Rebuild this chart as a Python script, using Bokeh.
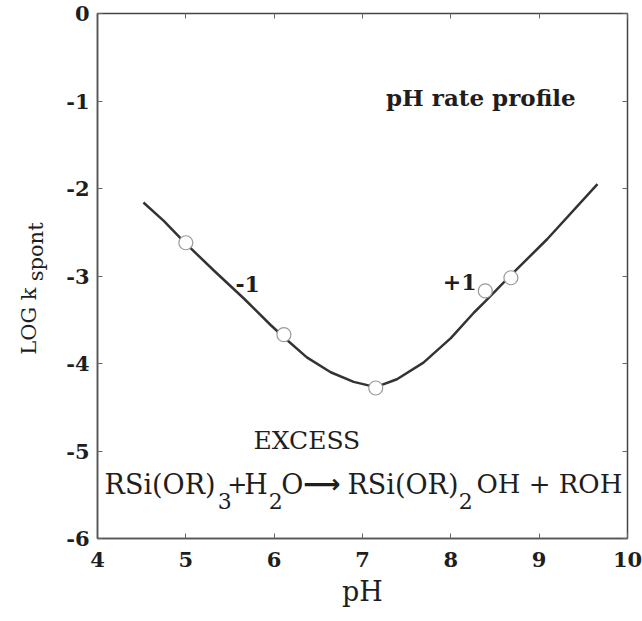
import math
from bokeh.plotting import figure
from bokeh.layouts import row
from bokeh.models import LinearAxis, FixedTicker, Label
from bokeh.core.properties import value
from bokeh.embed import file_html
from bokeh.resources import INLINE

# ---- data ----
x_ticks = [4, 5, 6, 7, 8, 9, 10]
y_ticks = [-6, -5, -4, -3, -2, -1, 0]
y_tick_labels = ["-6", "-5", "-4", "-3", "-2", "-1", "0"]

curve_ph = [4.52, 4.75, 4.98, 5.32, 5.66, 5.96, 6.11, 6.37, 6.64, 6.90, 7.15,
            7.39, 7.69, 8.00, 8.26, 8.39, 8.68, 9.09, 9.66]
curve_logk = [-2.16, -2.37, -2.61, -2.94, -3.26, -3.56, -3.70, -3.93, -4.10, -4.21, -4.27,
              -4.18, -3.99, -3.71, -3.42, -3.29, -2.99, -2.58, -1.95]

point_ph = [5.00, 6.11, 7.15, 8.39, 8.68]
point_logk = [-2.62, -3.67, -4.28, -3.17, -3.02]

SERIF = "DejaVu Serif"
INK = "#1e1e1e"
LABEL_W = 60
W, H = 642, 621
TOP, BOTTOM = 13, 83

p = figure(width=W - LABEL_W, height=H, x_range=(4, 10), y_range=(-6, 0),
           output_backend="svg", toolbar_location=None,
           min_border_left=97 - LABEL_W, min_border_right=15, min_border_top=TOP, min_border_bottom=BOTTOM)
p.background_fill_color = "white"
p.border_fill_color = "white"
p.outline_line_color = "#444444"
p.outline_line_width = 1.5
p.xgrid.visible = False
p.ygrid.visible = False

for ax in (p.xaxis[0], p.yaxis[0]):
    ax.major_tick_in = 5
    ax.major_tick_out = 0
    ax.minor_tick_line_color = None
    ax.axis_line_color = "#555555"
    ax.axis_line_width = 1.5
    ax.major_tick_line_color = "#666666"
    ax.major_label_text_font = SERIF
    ax.major_label_text_font_style = "bold"
    ax.major_label_text_font_size = "21px"
    ax.major_label_text_color = INK

p.xaxis.ticker = FixedTicker(ticks=x_ticks)
p.yaxis.ticker = FixedTicker(ticks=y_ticks)
p.yaxis.major_label_overrides = {t: s for t, s in zip(y_ticks, y_tick_labels)}
p.xaxis.major_label_standoff = 13
p.yaxis.major_label_standoff = 8
p.xaxis.axis_label = "pH"
p.xaxis.axis_label_text_font = SERIF
p.xaxis.axis_label_text_font_style = "normal"
p.xaxis.axis_label_text_font_size = "27px"
p.xaxis.axis_label_text_color = INK
p.xaxis.axis_label_standoff = 6

# mirrored tick-only axes on top and right (no labels drawn)
top = LinearAxis(ticker=FixedTicker(ticks=x_ticks), major_label_text_font_size="0px",
                 major_label_text_color=None,
                 major_tick_in=5, major_tick_out=0, minor_tick_line_color=None,
                 axis_line_color=None, major_tick_line_color="#666666", major_label_standoff=0)
right = LinearAxis(ticker=FixedTicker(ticks=y_ticks), major_label_text_font_size="0px",
                   major_label_text_color=None,
                   major_tick_in=5, major_tick_out=0, minor_tick_line_color=None,
                   axis_line_color=None, major_tick_line_color="#666666", major_label_standoff=0)
p.add_layout(top, "above")
p.add_layout(right, "right")

# curve and points
p.line(curve_ph, curve_logk, line_color="#333333", line_width=2.5, line_join="round")
p.scatter(point_ph, point_logk, size=14, fill_color="white", line_color="#9a9a9a", line_width=1.2)

def txt(x, y, s, size, bold=False, align="left", font=SERIF):
    p.add_layout(Label(x=x, y=y, text=s, text_font=font, text_font_size=size,
                       text_font_style="bold" if bold else "normal",
                       text_align=align, text_baseline="alphabetic", text_color=INK))

txt(8.34, -0.96, "pH rate profile", "23px", bold=True, align="center")
txt(5.70, -3.09, "-1", "22px", bold=True, align="center")
txt(8.10, -3.07, "+1", "22px", bold=True, align="center")
txt(6.37, -4.88, "EXCESS", "25px", align="center")

# equation pieces
main_y = -5.38
sub_y = -5.57
txt(4.08, main_y, "RSi(OR)", "27px")
txt(5.36, sub_y, "3", "22px")
txt(5.47, main_y, "+", "24px")
txt(5.66, main_y, "H", "27px")
txt(5.94, sub_y, "2", "22px")
txt(6.08, main_y, "O", "27px")
txt(6.33, main_y, "⟶", "26px", bold=True, font="DejaVu Sans")
txt(6.83, main_y, "RSi(OR)", "27px")
txt(8.09, sub_y, "2", "22px")
txt(8.29, main_y, "OH + ROH", "26px")

# left strip carrying the rotated y-axis label with its subscript;
# it shares the main plot's vertical scale so the label lines up with the axis
lab = figure(width=LABEL_W, height=H, x_range=(0, LABEL_W), y_range=p.y_range,
             x_axis_location=None, y_axis_location=None,
             output_backend="svg", toolbar_location=None,
             min_border_left=0, min_border_right=0, min_border_top=TOP, min_border_bottom=BOTTOM)
lab.grid.visible = False
lab.outline_line_color = None
lab.background_fill_color = "white"
lab.border_fill_color = "white"
lab.text(x=[28], y=[-3.90], text=["LOG k"], angle=math.pi / 2, text_font=value(SERIF),
         text_font_size="21px", text_align="left", text_baseline="alphabetic", text_color=INK)
lab.text(x=[35], y=[-3.06], text=["spont"], angle=math.pi / 2, text_font=value(SERIF),
         text_font_size="21px", text_align="left", text_baseline="alphabetic", text_color=INK)

layout = row(lab, p)
open("out.html", "w").write(file_html(layout, INLINE))
